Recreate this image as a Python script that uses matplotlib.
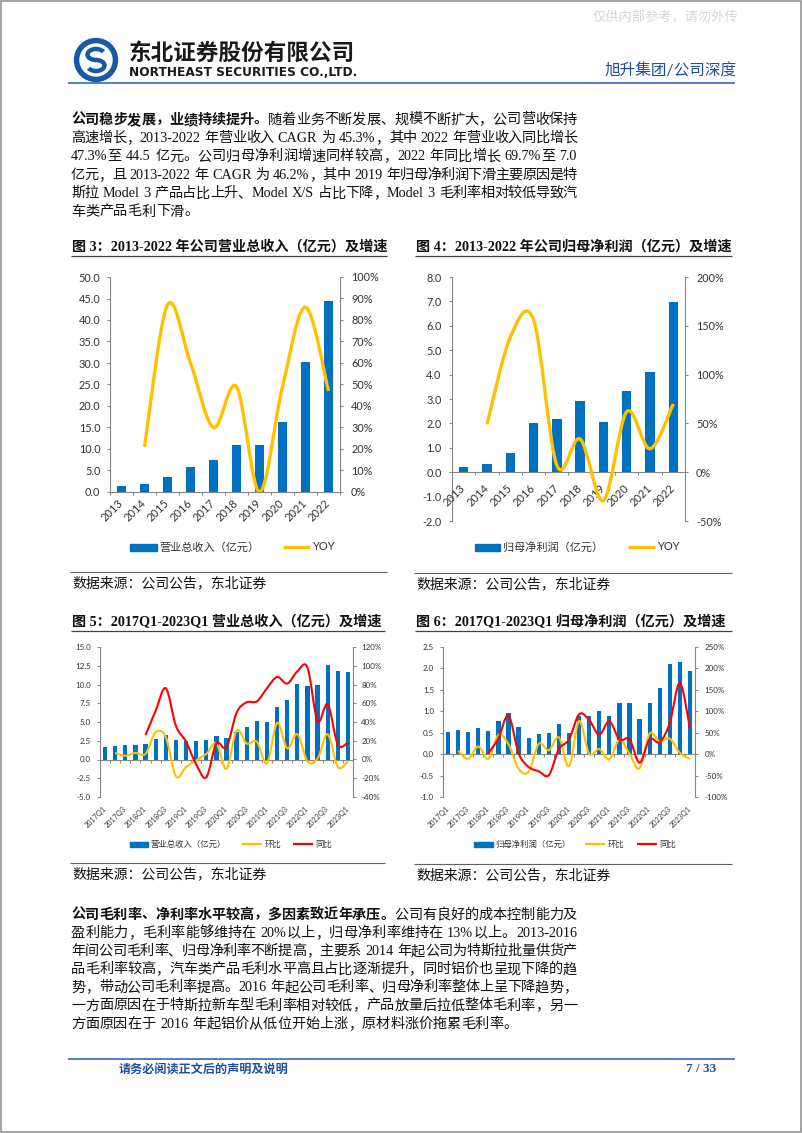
"""Page 7 of the Northeast Securities report on 旭升集团, redrawn with matplotlib."""

import re

import matplotlib

matplotlib.use("Agg")
import matplotlib.pyplot as plt
import numpy as np
from matplotlib.patches import Arc, Circle, PathPatch, Rectangle
from matplotlib.path import Path
from matplotlib.ticker import FuncFormatter
from matplotlib.transforms import offset_copy

W, H = 802, 1133

# annual figures, 2013-2022
years = ["2013", "2014", "2015", "2016", "2017", "2018", "2019", "2020", "2021", "2022"]
revenue = [1.5, 1.8, 3.4, 5.7, 7.4, 10.9, 10.9, 16.2, 30.2, 44.5]
revenue_yoy = [21, 87, 60, 30, 49, 0, 49, 86, 47]  # from 2014, %
profit = [0.22, 0.33, 0.79, 2.02, 2.19, 2.93, 2.04, 3.31, 4.11, 6.99]
profit_yoy = [49, 138, 156, 7, 34, -29, 62, 24, 70]  # from 2014, %

# quarterly figures, 2017Q1-2023Q1
quarters = ["2017Q1", "2017Q2", "2017Q3", "2017Q4", "2018Q1", "2018Q2", "2018Q3", "2018Q4",
            "2019Q1", "2019Q2", "2019Q3", "2019Q4", "2020Q1", "2020Q2", "2020Q3", "2020Q4",
            "2021Q1", "2021Q2", "2021Q3", "2021Q4", "2022Q1", "2022Q2", "2022Q3", "2022Q4",
            "2023Q1"]
q_revenue = [1.65, 1.8, 1.9, 2.0, 2.1, 2.75, 3.3, 2.65, 2.45, 2.45, 2.65, 3.15, 2.85,
             3.7, 4.35, 5.15, 4.95, 7.0, 7.95, 10.05, 9.85, 9.95, 12.65, 11.85, 11.7]
q_revenue_qoq = [7, 4, 7, 6, 29, 24, -18, -8, -1, 6, 17, -10, 31, 17, 19, -4, 39, 12, 27,
                 -2, 1, 27, -8, -2]  # from 2017Q2
q_revenue_yoy = [26, 52, 76, 36, 19, -5, -19, 17, 13, 50, 61, 62, 76, 88, 81, 94, 98, 41,
                 59, 16, 18]  # from 2018Q1
q_profit = [0.52, 0.56, 0.51, 0.60, 0.53, 0.77, 0.96, 0.63, 0.37, 0.46, 0.50, 0.70, 0.50,
            0.89, 0.90, 1.01, 0.89, 1.20, 1.20, 0.81, 1.20, 1.55, 2.10, 2.16, 1.93]
q_profit_qoq = [8, -11, 18, -11, 45, 23, -34, -41, 24, 9, 39, -28, 77, 1, 12, -12, 34, 1,
                -33, 48, 29, 36, 3, -11]  # from 2017Q2
q_profit_yoy = [2, 37, 90, 2, -30, -40, -49, 12, 34, 93, 80, 45, 77, 34, 35, -20, 35, 28,
                73, 166, 60]  # from 2018Q1

BLUE = "#0070C0"
YELLOW = "#FFC000"
RED = "#FF0000"
GRAY = "#868686"
TXT = "#333333"
NAVY = "#1F4E9A"
SERIF = ["Liberation Serif", "Noto Sans CJK SC"]
SANS = ["Lato", "Noto Sans CJK SC"]
BODY_FS = 10.2

plt.rcParams["font.family"] = SANS

fig = plt.figure(figsize=(W / 100, H / 100), dpi=100)
renderer = fig.canvas.get_renderer()

# page layer in pixel coordinates (y downwards)
page = fig.add_axes([0, 0, 1, 1])
page.set_xlim(0, W)
page.set_ylim(H, 0)
page.axis("off")


def fit(t, width):
    w = t.get_window_extent(renderer).width
    t.set_fontsize(t.get_fontsize() * width / w)


def hline(x0, x1, y, color, lw):
    page.plot([x0, x1], [y, y], color=color, lw=lw, solid_capstyle="butt")


TOKEN = re.compile(r"[A-Za-z0-9.%/\-]+| |.")


def body_line(y, segments, justify=True, x0=71, x1=577):
    units, gap = [], False
    for s, wt in segments:
        for tok in TOKEN.findall(s):
            if tok == " ":
                gap = True
                continue
            units.append((tok, wt, gap))
            gap = False
    texts = [page.text(x0, y, u[0], fontsize=BODY_FS, fontweight=u[1], family=SERIF,
                       va="center", ha="left", color="#111111") for u in units]
    widths = [t.get_window_extent(renderer).width for t in texts]
    sp = BODY_FS * 100 / 72 * 0.3
    natural = sum(widths) + sp * sum(u[2] for u in units)
    extra = (x1 - x0 - natural) / (len(units) - 1) if justify else 0
    x = x0
    for t, u, w in zip(texts, units, widths):
        if u[2]:
            x += sp
        t.set_x(x)
        x += w + extra


def smooth(xs, ys):
    pts = np.column_stack([xs, ys]).astype(float)
    verts, codes = [pts[0]], [Path.MOVETO]
    n = len(pts)
    for i in range(n - 1):
        p0 = pts[max(i - 1, 0)]
        p1, p2 = pts[i], pts[i + 1]
        p3 = pts[min(i + 2, n - 1)]
        verts += [p1 + (p2 - p0) / 6, p2 - (p3 - p1) / 6, p2]
        codes += [Path.CURVE4] * 3
    return Path(verts, codes)


def make_axes(l, t, r, b):
    return fig.add_axes([l / W, 1 - b / H, (r - l) / W, (b - t) / H])


def combo(box, n, bars, bar_w, ylim, ystep, yfmt, rlim, rstep, curves, fs, lpad, rpad):
    ax = make_axes(*box)
    ax.set_facecolor("none")
    x = np.arange(n)
    ax.bar(x, bars, width=bar_w, color=BLUE, zorder=1)
    ax.set_xlim(-0.5, n - 0.5)
    ax.set_ylim(*ylim)
    ax.set_yticks(np.arange(ylim[0], ylim[1] + ystep / 2, ystep))
    ax.yaxis.set_major_formatter(FuncFormatter(lambda v, _: yfmt.format(v)))
    ax.set_xticks(np.arange(-0.5, n, 1))
    ax.tick_params(axis="x", direction="out", length=2.5, width=0.7, color=GRAY,
                   labelbottom=False)
    ax.tick_params(axis="y", direction="out", length=2.5, width=0.7, color=GRAY,
                   labelsize=fs, labelcolor=TXT, pad=lpad)
    for s in ("top", "right"):
        ax.spines[s].set_visible(False)
    for s in ("left", "bottom"):
        ax.spines[s].set_color(GRAY)
        ax.spines[s].set_linewidth(0.8)
    if ylim[0] < 0:
        ax.spines["bottom"].set_position(("data", 0))

    ax2 = ax.twinx()
    for xs, ys, color, lw in curves:
        ax2.add_patch(PathPatch(smooth(xs, ys), fill=False, edgecolor=color, lw=lw,
                                joinstyle="round", capstyle="butt"))
    ax2.set_ylim(*rlim)
    ax2.set_yticks(np.arange(rlim[0], rlim[1] + 1, rstep))
    ax2.yaxis.set_major_formatter(FuncFormatter(lambda v, _: f"{v:.0f}%"))
    ax2.tick_params(axis="y", direction="out", length=2.5, width=0.7, color=GRAY,
                    labelsize=fs, labelcolor=TXT, pad=rpad)
    for s in ("top", "left", "bottom"):
        ax2.spines[s].set_visible(False)
    ax2.spines["right"].set_color(GRAY)
    ax2.spines["right"].set_linewidth(0.8)
    return ax


def cat_labels(ax, pos, labels, base, dy, fs):
    trans = offset_copy(base, fig=fig, x=0, y=dy, units="dots")
    for p, lab in zip(pos, labels):
        ax.text(p, 0, lab, transform=trans, rotation=45, ha="right", va="center",
                rotation_mode="anchor", fontsize=fs, color=TXT, clip_on=False)


def legend(y, items, fs, h, lw):
    for kind, x0, x1, color, label in items:
        if kind == "bar":
            page.add_patch(Rectangle((x0, y - h / 2), x1 - x0, h, color=color))
        else:
            hline(x0, x1, y, color, lw)
        page.text(x1 + 2.5, y, label, fontsize=fs, va="center", ha="left", color=TXT)


def chart_frame(x0, x1, title, y_title, y_src):
    page.text(x0, y_title, title, fontsize=BODY_FS, fontweight="bold", family=SERIF,
              va="center", ha="left", color="#111111")
    hline(x0 - 1, x1, y_title + 8.5, "#404040", 0.9)
    hline(x0 - 2, x1, y_src, "#606060", 0.8)
    page.text(x0, y_src + 11, "数据来源：公司公告，东北证券", fontsize=10, family=SERIF,
              va="center", ha="left", color="#111111")


# ---- page furniture ----
page.add_patch(Rectangle((0.5, 0.5), W - 1.5, H - 2, fill=False, edgecolor="#8a8a8a", lw=1.1))
page.text(593, 17, "仅供内部参考，请勿外传", fontsize=9.5, color="#d6d6d6", va="center", ha="left")

page.add_patch(Circle((96, 60), 21.5, color="#1559A8"))
page.add_patch(Circle((96, 60), 16, color="white"))
page.add_patch(Arc((96, 54.5), 17, 11, theta1=90, theta2=340, color="#1559A8", lw=3.2))
page.add_patch(Arc((96, 65.5), 17, 11, theta1=-90, theta2=160, color="#1559A8", lw=3.2))

t = page.text(129, 53, "东北证券股份有限公司", fontsize=16, fontweight="bold",
              color="#1a1a1a", va="center", ha="left")
fit(t, 226)
t = page.text(129, 72.5, "NORTHEAST SECURITIES CO.,LTD.", fontsize=8, fontweight="bold",
              family="DejaVu Sans", color="#1a1a1a", va="center", ha="left")
fit(t, 228)
t = page.text(737, 71, "旭升集团/公司深度", fontsize=11, color=NAVY, va="center", ha="right")
fit(t, 132)
hline(68, 735, 82.5, "#2F6DB5", 1.2)

hline(68, 735, 1059, "#2F6DB5", 1.2)
t = page.text(119, 1069, "请务必阅读正文后的声明及说明", fontsize=9, fontweight="bold",
              color=NAVY, va="center", ha="left")
fit(t, 169)
page.text(716, 1069, "7 / 33", fontsize=9.5, fontweight="bold", family=SERIF,
          color=NAVY, va="center", ha="right")

# ---- paragraph 1 ----
p1 = [
    [("公司稳步发展，业绩持续提升。", "bold"), ("随着业务不断发展、规模不断扩大，公司营收保持", "normal")],
    [("高速增长，2013-2022 年营业收入 CAGR 为 45.3%，其中 2022 年营业收入同比增长", "normal")],
    [("47.3%至 44.5 亿元。公司归母净利润增速同样较高，2022 年同比增长 69.7%至 7.0", "normal")],
    [("亿元，且 2013-2022 年 CAGR 为 46.2%，其中 2019 年归母净利润下滑主要原因是特", "normal")],
    [("斯拉 Model 3 产品占比上升、Model X/S 占比下降，Model 3 毛利率相对较低导致汽", "normal")],
    [("车类产品毛利下滑。", "normal")],
]
for i, segs in enumerate(p1):
    body_line(120 + i * 18.4, segs, justify=i < len(p1) - 1)

# ---- paragraph 2 ----
p2 = [
    [("公司毛利率、净利率水平较高，多因素致近年承压。", "bold"), ("公司有良好的成本控制能力及", "normal")],
    [("盈利能力，毛利率能够维持在 20%以上，归母净利率维持在 13%以上。2013-2016", "normal")],
    [("年间公司毛利率、归母净利率不断提高，主要系 2014 年起公司为特斯拉批量供货产", "normal")],
    [("品毛利率较高，汽车类产品毛利水平高且占比逐渐提升，同时铝价也呈现下降的趋", "normal")],
    [("势，带动公司毛利率提高。2016 年起公司毛利率、归母净利率整体上呈下降趋势，", "normal")],
    [("一方面原因在于特斯拉新车型毛利率相对较低，产品放量后拉低整体毛利率，另一", "normal")],
    [("方面原因在于 2016 年起铝价从低位开始上涨，原材料涨价拖累毛利率。", "normal")],
]
for i, segs in enumerate(p2):
    body_line(915 + i * 18.2, segs, justify=i < len(p2) - 1)

# ---- figure 3: annual revenue ----
chart_frame(72, 387, "图 3：2013-2022 年公司营业总收入（亿元）及增速", 247, 572)
ny = len(years)
ax = combo((110, 277, 340, 492), ny, revenue, 0.4, (0, 50), 5, "{:.1f}", (0, 100), 10,
           [(np.arange(1, ny), revenue_yoy, YELLOW, 2.4)], 7.8, 4.5, 5.5)
cat_labels(ax, np.arange(ny), years, ax.transData, -9, 8)
legend(547, [("bar", 130, 157, BLUE, "营业总收入（亿元）"),
             ("line", 283, 310, YELLOW, "YOY")], 8, 7, 2.4)

# ---- figure 4: annual net profit ----
chart_frame(416, 732, "图 4：2013-2022 年公司归母净利润（亿元）及增速", 247, 573)
ax = combo((452, 277, 685, 521), ny, profit, 0.4, (-2, 8), 1, "{:.1f}", (-50, 200), 50,
           [(np.arange(1, ny), profit_yoy, YELLOW, 2.4)], 7.8, 5, 5.5)
cat_labels(ax, np.arange(ny), years, ax.transData, -14, 8)
legend(547, [("bar", 475, 500, BLUE, "归母净利润（亿元）"),
             ("line", 628, 655, YELLOW, "YOY")], 8, 7, 2.4)

# ---- figure 5: quarterly revenue ----
nq = len(quarters)
xq = np.arange(nq)
chart_frame(72, 385, "图 5：2017Q1-2023Q1 营业总收入（亿元）及增速", 622, 863)
ax = combo((100, 647, 353, 797), nq, q_revenue, 0.42, (-5, 15), 2.5, "{:.1f}", (-40, 120), 20,
           [(xq[1:], q_revenue_qoq, YELLOW, 1.5), (xq[4:], q_revenue_yoy, RED, 1.5)],
           5.8, 4, 3.5)
cat_labels(ax, xq[::2], quarters[::2], ax.get_xaxis_transform(), -10, 5.2)
legend(844, [("bar", 130, 148, BLUE, "营业总收入（亿元）"),
             ("line", 242, 262, YELLOW, "环比"),
             ("line", 293, 313, RED, "同比")], 6, 5, 1.6)

# ---- figure 6: quarterly net profit ----
chart_frame(416, 732, "图 6：2017Q1-2023Q1 归母净利润（亿元）及增速", 622, 864)
ax = combo((443, 647, 695, 797), nq, q_profit, 0.42, (-1, 2.5), 0.5, "{:.1f}", (-100, 250), 50,
           [(xq[1:], q_profit_qoq, YELLOW, 1.5), (xq[4:], q_profit_yoy, RED, 1.5)],
           5.8, 4, 4.5)
cat_labels(ax, xq[::2], quarters[::2], ax.get_xaxis_transform(), -10, 5.2)
legend(844, [("bar", 474, 493, BLUE, "归母净利润（亿元）"),
             ("line", 585, 605, YELLOW, "环比"),
             ("line", 637, 657, RED, "同比")], 6, 5, 1.6)

fig.savefig("out.png", dpi=100)
